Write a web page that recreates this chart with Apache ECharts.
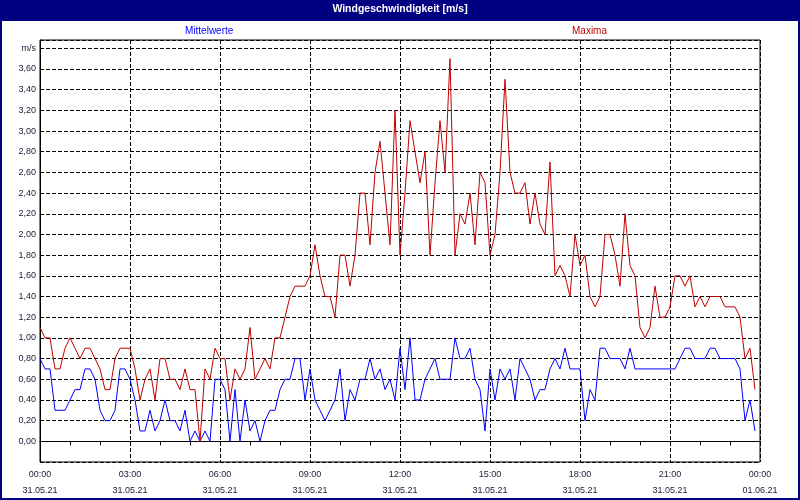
<!DOCTYPE html>
<html>
<head>
<meta charset="utf-8">
<script src="https://cdn.jsdelivr.net/npm/echarts@6/dist/echarts.min.js"></script>
<style>
  html, body { margin: 0; padding: 0; background: #fff; }
  #chart { width: 800px; height: 500px; }
</style>
</head>
<body>
<div id="chart"></div>
<script>
// 10-minute values, 31.05.21 00:00 .. 23:50
const stepMinutes = 10;
const meanVals = [
  0.8, 0.7, 0.7, 0.3, 0.3, 0.3, 0.4, 0.5, 0.5, 0.7, 0.7, 0.6, 0.3, 0.2, 0.2, 0.3, 0.7, 0.7,
  0.6, 0.4, 0.1, 0.1, 0.3, 0.1, 0.2, 0.4, 0.2, 0.2, 0.1, 0.3, 0.0, 0.1, 0.0, 0.1, 0.0, 0.6,
  0.6, 0.5, 0.0, 0.5, 0.0, 0.4, 0.1, 0.2, 0.0, 0.2, 0.3, 0.3, 0.5, 0.6, 0.6, 0.8, 0.8, 0.4,
  0.7, 0.4, 0.3, 0.2, 0.3, 0.4, 0.7, 0.2, 0.5, 0.4, 0.6, 0.6, 0.8, 0.6, 0.7, 0.5, 0.6, 0.4,
  0.9, 0.5, 1.0, 0.4, 0.4, 0.6, 0.7, 0.8, 0.6, 0.6, 0.6, 1.0, 0.8, 0.8, 0.9, 0.6, 0.5, 0.1,
  0.7, 0.4, 0.7, 0.6, 0.7, 0.4, 0.8, 0.7, 0.6, 0.4, 0.5, 0.5, 0.7, 0.8, 0.7, 0.9, 0.7, 0.7,
  0.7, 0.2, 0.5, 0.4, 0.9, 0.9, 0.8, 0.8, 0.8, 0.7, 0.9, 0.7, 0.7, 0.7, 0.7, 0.7, 0.7, 0.7,
  0.7, 0.7, 0.8, 0.9, 0.9, 0.8, 0.8, 0.8, 0.9, 0.9, 0.8, 0.8, 0.8, 0.8, 0.7, 0.2, 0.4, 0.1
];
const maxVals = [
  1.1, 1.0, 1.0, 0.7, 0.7, 0.9, 1.0, 0.9, 0.8, 0.9, 0.9, 0.8, 0.7, 0.5, 0.5, 0.8, 0.9, 0.9,
  0.9, 0.7, 0.4, 0.6, 0.7, 0.4, 0.8, 0.8, 0.6, 0.6, 0.5, 0.7, 0.5, 0.5, 0.0, 0.7, 0.6, 0.9,
  0.8, 0.8, 0.4, 0.7, 0.6, 0.7, 1.1, 0.6, 0.7, 0.8, 0.7, 1.0, 1.0, 1.2, 1.4, 1.5, 1.5, 1.5,
  1.6, 1.9, 1.6, 1.4, 1.4, 1.2, 1.8, 1.8, 1.5, 1.8, 2.4, 2.4, 1.9, 2.6, 2.9, 2.4, 1.9, 3.2,
  1.8, 2.4, 3.1, 2.8, 2.5, 2.8, 1.8, 2.5, 3.1, 2.6, 3.7, 1.8, 2.2, 2.1, 2.4, 1.9, 2.6, 2.5,
  1.8, 2.0, 2.6, 3.5, 2.6, 2.4, 2.4, 2.5, 2.1, 2.4, 2.1, 2.0, 2.7, 1.6, 1.7, 1.6, 1.4, 2.0,
  1.7, 1.8, 1.4, 1.3, 1.4, 2.0, 2.0, 1.8, 1.5, 2.2, 1.7, 1.6, 1.1, 1.0, 1.1, 1.5, 1.2, 1.2,
  1.3, 1.6, 1.6, 1.5, 1.6, 1.3, 1.4, 1.3, 1.4, 1.4, 1.4, 1.3, 1.3, 1.3, 1.2, 0.8, 0.9, 0.5
];
const tickTimes = ['00:00', '03:00', '06:00', '09:00', '12:00', '15:00', '18:00', '21:00', '00:00'];
const tickDates = ['31.05.21', '31.05.21', '31.05.21', '31.05.21', '31.05.21', '31.05.21', '31.05.21', '31.05.21', '01.06.21'];

const font = 'Liberation Sans';
const textColor = '#1a1a3a';
const navy = '#000080';

const chart = echarts.init(document.getElementById('chart'));
chart.setOption({
  animation: false,
  backgroundColor: '#fff',
  title: {
    text: 'Windgeschwindigkeit [m/s]',
    left: 'center',
    top: 4,
    padding: 0,
    textStyle: { color: '#fff', fontSize: 10.5, fontWeight: 'bold', fontFamily: font }
  },
  graphic: [
    { type: 'rect', z: -10, shape: { x: 0, y: 0, width: 800, height: 21 }, style: { fill: navy } },
    { type: 'rect', z: -10, shape: { x: 1, y: 1, width: 798, height: 498 }, style: { fill: null, stroke: navy, lineWidth: 2 } }
  ],
  legend: [
    {
      data: ['Mittelwerte'], left: 180, top: 25, padding: 0, icon: 'none',
      itemWidth: 0, itemHeight: 12, selectedMode: false,
      textStyle: { color: '#0000ff', fontSize: 10, fontFamily: font }
    },
    {
      data: ['Maxima'], left: 567, top: 25, padding: 0, icon: 'none',
      itemWidth: 0, itemHeight: 12, selectedMode: false,
      textStyle: { color: '#c00000', fontSize: 10, fontFamily: font }
    }
  ],
  grid: {
    left: 40, right: 40, top: 40, bottom: 38,
    show: true, borderColor: '#000', borderWidth: 1
  },
  xAxis: {
    type: 'value',
    min: 0,
    max: 1440,
    interval: 180,
    axisLine: { lineStyle: { color: '#000', width: 1 } },
    axisTick: { show: true, length: 4, lineStyle: { color: '#000' } },
    minorTick: { show: true, splitNumber: 3, length: 4, lineStyle: { color: '#000' } },
    splitLine: { show: true, lineStyle: { color: '#000', type: [4, 2], width: 1 } },
    axisLabel: {
      margin: 5,
      color: textColor,
      fontSize: 9,
      fontFamily: font,
      lineHeight: 16,
      showMinLabel: true,
      showMaxLabel: true,
      formatter: v => {
        const i = Math.round(v / 180);
        return tickTimes[i] + '\n' + tickDates[i];
      }
    }
  },
  yAxis: {
    type: 'value',
    min: -0.2,
    max: 3.88,
    interval: 0.2,
    axisLine: { show: true, lineStyle: { color: '#000', width: 1 } },
    axisTick: { show: false },
    splitLine: { show: true, lineStyle: { color: '#000', type: [4, 2], width: 1 } },
    axisLabel: {
      margin: 4,
      color: textColor,
      fontSize: 9,
      fontFamily: font,
      showMaxLabel: false,
      formatter: v => {
        if (v < -0.01) return '';
        if (v > 3.7) return 'm/s';
        return v.toFixed(2).replace('.', ',');
      }
    }
  },
  series: [
    {
      name: 'Mittelwerte',
      type: 'line',
      symbol: 'none',
      color: '#0000ff',
      lineStyle: { width: 1, color: '#0000ff' },
      data: meanVals.map((v, i) => [i * stepMinutes, v])
    },
    {
      name: 'Maxima',
      type: 'line',
      symbol: 'none',
      color: '#c00000',
      lineStyle: { width: 1, color: '#c00000' },
      data: maxVals.map((v, i) => [i * stepMinutes, v])
    }
  ]
});
</script>
</body>
</html>
